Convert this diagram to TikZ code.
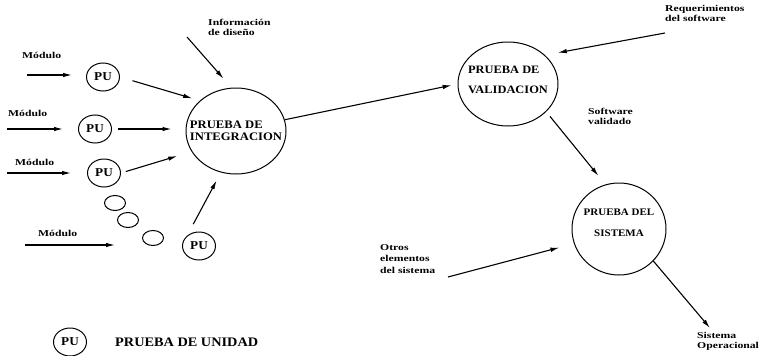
\documentclass[tikz,border=0pt]{standalone}
\usepackage{fontspec}
\setmainfont{Liberation Serif}[FakeStretch=1.1]
\newfontfamily\etiqfont{Liberation Serif}[FakeStretch=1.3]
\usetikzlibrary{shapes.geometric, arrows.meta, positioning}

\begin{document}
\begin{tikzpicture}[
        x=1pt, y=-1pt,
        proceso/.style={ellipse, draw=black, line width=1pt, minimum width=100pt, minimum height=86pt, inner ysep=0pt, inner xsep=-11pt, align=left, font=\bfseries\fontsize{11.5}{12}\selectfont},
        unidad/.style={ellipse, draw=black, line width=1pt, minimum width=33pt, minimum height=28pt, inner sep=0pt, font=\bfseries\fontsize{12}{12}\selectfont},
        hueco/.style={ellipse, draw=black, line width=1pt, minimum width=21pt, minimum height=15pt, inner sep=0pt},
        etiqueta/.style={inner sep=0pt, align=left, font=\etiqfont\bfseries\fontsize{9}{10}\selectfont},
        flecha/.style={-{Latex[length=9pt, width=4.5pt]}, line width=1.1pt}
    ]
    \useasboundingbox (0,0) rectangle (763,356);

    % pruebas
    \node (integ) [proceso] at (236,131) {PRUEBA DE\\INTEGRACION};
    \node (valid) [proceso, minimum height=84pt, inner xsep=-5.5pt, text depth=8pt, font=\bfseries\fontsize{11.3}{20}\selectfont] at (508,84) {PRUEBA DE\\VALIDACION};
    \node (sist) [proceso, minimum width=94pt, minimum height=92pt, inner xsep=-2.5pt, text depth=13pt, align=center, font=\bfseries\fontsize{10}{21}\selectfont] at (619,229) {PRUEBA DEL\\SISTEMA};

    % pruebas de unidad
    \node (pu1) [unidad] at (103,77) {PU};
    \node (pu2) [unidad] at (95,129) {PU};
    \node (pu3) [unidad] at (104,173) {PU};
    \node (pu4) [unidad] at (199,246) {PU};
    \node (h1) [hueco] at (115,203) {};
    \node (h2) [hueco] at (128,220) {};
    \node (h3) [hueco] at (153,238) {};

    % etiquetas
    \node (mod1) [etiqueta, anchor=west] at (22,55) {Módulo};
    \node (mod2) [etiqueta, anchor=west] at (8,113) {Módulo};
    \node (mod3) [etiqueta, anchor=west] at (15,162) {Módulo};
    \node (mod4) [etiqueta, anchor=west] at (38,233) {Módulo};
    \node (info) [etiqueta, anchor=north west] at (208,19) {Información\\de diseño};
    \node (req) [etiqueta, anchor=north west] at (665,5) {Requerimientos\\del software};
    \node (softv) [etiqueta, anchor=north west] at (588,108) {Software\\validado};
    \node (otros) [etiqueta, anchor=north west, font=\etiqfont\bfseries\fontsize{9}{11.5}\selectfont] at (380,244) {Otros\\elementos\\del sistema};
    \node (oper) [etiqueta, anchor=north west] at (697,332) {Sistema\\Operacional};

    % leyenda
    \node (leyenda) [unidad] at (70,342) {PU};
    \node (leytexto) [right=28pt of leyenda, inner sep=0pt, font=\bfseries\fontsize{13}{13}\selectfont] {PRUEBA DE UNIDAD};

    % extremos libres
    \coordinate (m1a) at (27,75);
    \coordinate (m2a) at (7,129);
    \coordinate (m3a) at (7,173);
    \coordinate (m4a) at (25,245);
    \coordinate (m4b) at (115,245);
    \coordinate (infoa) at (187,37);
    \coordinate (reqa) at (665,33);
    \coordinate (otrosa) at (448,277);
    \coordinate (opera) at (710,328);

    \draw [flecha, shorten >=14pt] (m1a) -- (pu1.west |- m1a);
    \draw [flecha, shorten >=15pt] (m2a) -- (pu2.west |- m2a);
    \draw [flecha, shorten >=16pt] (m3a) -- (pu3.west |- m3a);
    \draw [flecha] (m4a) -- (m4b);
    \draw [flecha, shorten <=13pt, shorten >=8pt] (pu1.east) -- (integ.140);
    \draw [flecha, shorten <=6pt, shorten >=14pt] (pu2.east) -- (pu2.east -| integ.west);
    \draw [flecha, shorten <=5pt, shorten >=15pt] (pu3.east) -- (integ.205);
    \draw [flecha, shorten <=13pt, shorten >=9pt] (pu4.139) -- (integ.250);
    \draw [flecha, shorten >=12pt] (infoa) -- (integ.96);
    \draw [flecha, shorten >=6pt] (integ.13) -- (valid.west);
    \draw [flecha, shorten >=13pt] (reqa) -- (valid.38);
    \draw [flecha, shorten <=6pt, shorten >=11pt] (valid.324) -- (sist.107);
    \draw [flecha, shorten >=15pt] (otrosa) -- (sist.198);
    \draw [flecha] (sist.317) -- (opera);

\end{tikzpicture}
\end{document}
